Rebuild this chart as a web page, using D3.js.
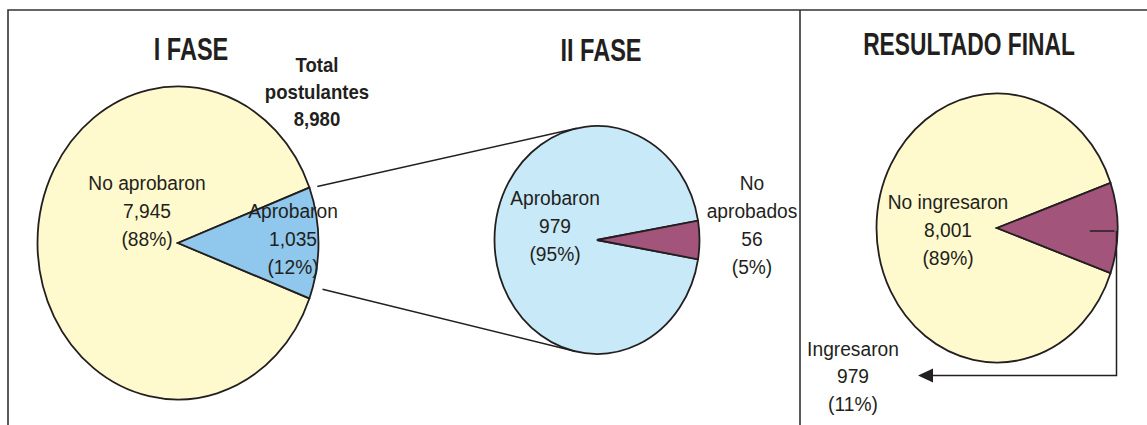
<!DOCTYPE html>
<html>
<head>
<meta charset="utf-8">
<script src="https://cdn.jsdelivr.net/npm/d3@7/dist/d3.min.js"></script>
<style>
  body { margin: 0; background: #fff; }
  text { font-family: "Liberation Sans", Arial, sans-serif; fill: #231f20; }
</style>
</head>
<body>
<script>
// data
var titles = ["I FASE", "II FASE", "RESULTADO FINAL"];
var totalLabel = ["Total", "postulantes"];

var fase1Categories = ["No aprobaron", "Aprobaron"];
var fase1Values = [7945, 1035];

var fase2Categories = ["Aprobaron", "No aprobados"];
var fase2Values = [979, 56];

var finalCategories = ["No ingresaron", "Ingresaron"];
var finalValues = [8001, 979];

var W = 1147, H = 425;
var fmt = d3.format(",");

var svg = d3.select("body").append("svg")
    .attr("width", W)
    .attr("height", H);

// frame
svg.append("path")
    .attr("d", "M8," + H + "V10H" + W + "M800,10V" + H)
    .attr("fill", "none")
    .attr("stroke", "#333")
    .attr("stroke-width", 1.6);

var pies = [
    {cx: 178, cy: 243, rx: 140.5, ry: 156.5, cats: fase1Categories, vals: fase1Values,
     colors: ["#fffacd", "#8fc8ec"]},
    {cx: 597, cy: 240, rx: 102.5, ry: 114, cats: fase2Categories, vals: fase2Values,
     colors: ["#c8e9f8", "#a2547b"]},
    {cx: 997, cy: 228, rx: 120.5, ry: 134.5, cats: finalCategories, vals: finalValues,
     colors: ["#fffacd", "#a2547b"]}
];

var R = 100;
var arc = d3.arc().innerRadius(0).outerRadius(R);

pies.forEach(function(p) {
    var total = d3.sum(p.vals);
    var a = 2 * Math.PI * p.vals[1] / total;
    var start = Math.PI / 2 + a / 2;
    var pie = d3.pie().sort(null)
        .startAngle(start)
        .endAngle(start + 2 * Math.PI);
    p.total = total;
    p.smallAngle = a;
    var g = svg.append("g")
        .attr("transform", "translate(" + p.cx + "," + p.cy + ") scale(" + (p.rx / R) + "," + (p.ry / R) + ")");
    g.selectAll("path")
        .data(pie(p.vals))
        .enter()
        .append("path")
        .attr("d", arc)
        .attr("fill", function(d, i) { return p.colors[i]; })
        .attr("stroke", "#231f20")
        .attr("stroke-width", 1.8)
        .attr("vector-effect", "non-scaling-stroke");
});

function pct(p, i) {
    return "(" + Math.round(p.vals[i] / p.total * 100) + "%)";
}

// point on ellipse, angle measured from east, y down
function ePt(p, ang, k) {
    k = k || 1;
    return [p.cx + k * p.rx * Math.cos(ang), p.cy + k * p.ry * Math.sin(ang)];
}

// tangent from external point to ellipse
function tangent(p, pt, side) {
    var ux = (pt[0] - p.cx) / p.rx, uy = (pt[1] - p.cy) / p.ry;
    var d = Math.sqrt(ux * ux + uy * uy);
    var ang = Math.atan2(uy, ux) + side * Math.acos(1 / d);
    return ePt(p, ang);
}

// connector lines I FASE -> II FASE
var p1 = pies[0], p2 = pies[1], p3 = pies[2];
var deg = Math.PI / 180;
var s1 = ePt(p1, -20 * deg, 1.055);
var s2 = ePt(p1, 16 * deg, 1.07);
var t1 = tangent(p2, s1, 1);
var t2 = tangent(p2, s2, -1);
svg.append("path")
    .attr("d", d3.line()([s1, t1]) + d3.line()([s2, t2]))
    .attr("fill", "none")
    .attr("stroke", "#231f20")
    .attr("stroke-width", 1.5);

// arrow from RESULTADO FINAL small slice
var arrowY = p3.cy + p3.ry + 13;
var tipX = 918;
var edgeX = p3.cx + p3.rx - 1;
svg.append("path")
    .attr("d", d3.line()([[p3.cx + 0.77 * p3.rx, p3.cy + 3], [edgeX - 2, p3.cy + 3]]))
    .attr("stroke", "#231f20")
    .attr("stroke-width", 1.5);
svg.append("path")
    .attr("d", d3.line()([[edgeX, p3.cy + 3], [edgeX, arrowY], [tipX + 12, arrowY]]))
    .attr("fill", "none")
    .attr("stroke", "#231f20")
    .attr("stroke-width", 1.5);
svg.append("path")
    .attr("d", d3.line()([[tipX, arrowY], [tipX + 15, arrowY - 7], [tipX + 15, arrowY + 7]]) + "Z")
    .attr("fill", "#231f20");

// titles
var titleCfg = [
    {x: 191, y: 60, sx: 0.76},
    {x: 601, y: 61, sx: 0.76},
    {x: 969, y: 55, sx: 0.735}
];
titles.forEach(function(t, i) {
    var c = titleCfg[i];
    svg.append("text")
        .attr("transform", "translate(" + c.x + "," + c.y + ") scale(" + c.sx + ",1)")
        .attr("text-anchor", "middle")
        .style("font-size", "31px")
        .style("font-weight", "bold")
        .text(t);
});

// total postulantes
var totalLines = totalLabel.concat([fmt(d3.sum(fase1Values))]);
svg.append("g")
    .attr("transform", "translate(317,72) scale(0.93,1)")
    .selectAll("text")
    .data(totalLines)
    .enter()
    .append("text")
    .attr("text-anchor", "middle")
    .attr("y", function(d, i) { return i * 27; })
    .style("font-size", "20px")
    .style("font-weight", "bold")
    .text(function(d) { return d; });

// slice labels
function label(x, y, lines) {
    svg.append("g")
        .attr("transform", "translate(" + x + "," + y + ") scale(0.96,1)")
        .selectAll("text")
        .data(lines)
        .enter()
        .append("text")
        .attr("text-anchor", "middle")
        .attr("y", function(d, i) { return i * 28; })
        .style("font-size", "20px")
        .text(function(d) { return d; });
}

function lines(p, i, split) {
    var name = split ? p.cats[i].split(" ") : [p.cats[i]];
    return name.concat([fmt(p.vals[i]), pct(p, i)]);
}

label(p1.cx - 31, p1.cy - 53, lines(p1, 0));
label(p1.cx + 115, p1.cy - 25, lines(p1, 1));
label(p2.cx - 42, p2.cy - 35, lines(p2, 0));
label(p2.cx + 155, p2.cy - 50, lines(p2, 1, true));
label(p3.cx - 49, p3.cy - 19, lines(p3, 0));
label(853, arrowY - 20, lines(p3, 1));
</script>
</body>
</html>
